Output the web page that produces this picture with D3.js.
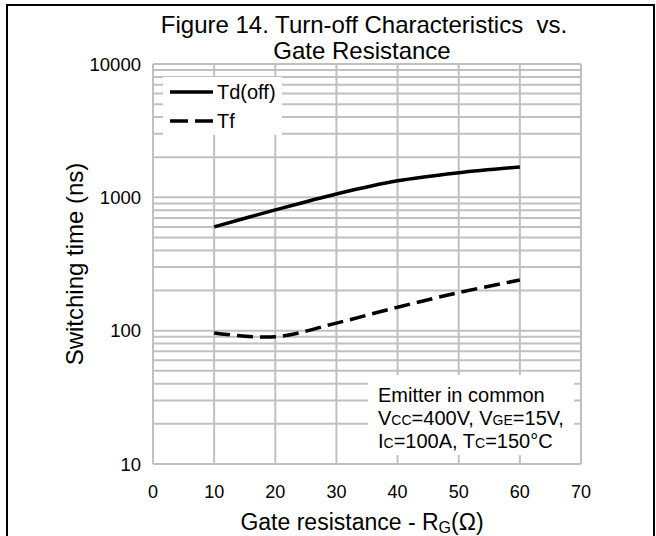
<!DOCTYPE html>
<html><head><meta charset="utf-8">
<script src="https://cdn.jsdelivr.net/npm/d3@7"></script>
<style>body{margin:0;background:#fff;} text{font-family:"Liberation Sans",Arial,sans-serif;fill:#000;}</style>
</head><body>
<svg id="c" width="656" height="536"></svg>
<script>
const xTicks = [0,10,20,30,40,50,60,70];
const yTicks = [10,100,1000,10000];
const rg = [10,20,30,40,50,60];
const tdOff = [600,805,1060,1330,1530,1690];
const tf = [96,90,114,150,193,240];
const seriesNames = ["Td(off)","Tf"];

const svg = d3.select("#c");
const L=153,R=581,T=64,B=464;
const x = d3.scaleLinear().domain([0,70]).range([L,R]);
const y = d3.scaleLog().domain([10,10000]).range([B,T]);

// frame
svg.append("path").attr("d","M7,536V5H654V536").attr("fill","none").attr("stroke","#000").attr("stroke-width",2);

// grid
const minor=[];
for(let d=10; d<10000; d*=10) for(let k=1;k<=9;k++) minor.push(d*k);
minor.push(10000);
const g = svg.append("g");
g.selectAll("line.h").data(minor).join("line").attr("x1",L).attr("x2",R)
 .attr("y1",d=>y(d)).attr("y2",d=>y(d)).attr("stroke","#c0c0c0").attr("stroke-width",2);
g.selectAll("line.v").data(xTicks).join("line").attr("y1",T).attr("y2",B)
 .attr("x1",d=>x(d)).attr("x2",d=>x(d)).attr("stroke","#c0c0c0").attr("stroke-width",2);

// tick labels
svg.selectAll("text.xt").data(xTicks).join("text").attr("x",d=>x(d)).attr("y",498)
 .attr("text-anchor","middle").attr("font-size",18).text(d=>d);
svg.selectAll("text.yt").data(yTicks).join("text").attr("x",141).attr("y",d=>y(d)+6.5)
 .attr("text-anchor","end").attr("font-size",18.5).text(d=>d);

// lines
const line = d3.line().x((d,i)=>x(rg[i])).y(d=>y(d)).curve(d3.curveCatmullRom.alpha(0.5));
svg.append("path").attr("d",line(tdOff)).attr("fill","none").attr("stroke","#000").attr("stroke-width",3.5);
svg.append("path").attr("d",line(tf)).attr("fill","none").attr("stroke","#000").attr("stroke-width",3.5).attr("stroke-dasharray","16,7");

// legend
svg.append("rect").attr("x",163).attr("y",77).attr("width",119).attr("height",58).attr("fill","#fff");
svg.append("line").attr("x1",170).attr("x2",213).attr("y1",92).attr("y2",92).attr("stroke","#000").attr("stroke-width",3.5);
svg.append("line").attr("x1",170).attr("x2",213).attr("y1",121).attr("y2",121).attr("stroke","#000").attr("stroke-width",3.5).attr("stroke-dasharray","18,7");
svg.append("text").attr("x",217).attr("y",99).attr("font-size",20).text(seriesNames[0]);
svg.append("text").attr("x",217).attr("y",128).attr("font-size",20).text(seriesNames[1]);

// annotation
svg.append("rect").attr("x",368).attr("y",375).attr("width",206).attr("height",80).attr("fill","#fff");
const ann = svg.append("g").attr("font-size",20);
ann.append("text").attr("x",378).attr("y",402).text("Emitter in common");
const t2 = ann.append("text").attr("x",378).attr("y",425);
t2.append("tspan").text("V");
t2.append("tspan").attr("font-size",14).text("CC");
t2.append("tspan").text("=400V, V");
t2.append("tspan").attr("font-size",14).text("GE");
t2.append("tspan").text("=15V,");
const t3 = ann.append("text").attr("x",378).attr("y",448);
t3.append("tspan").text("I");
t3.append("tspan").attr("font-size",14).text("C");
t3.append("tspan").text("=100A, T");
t3.append("tspan").attr("font-size",14).text("C");
t3.append("tspan").text("=150°C");

// titles
svg.append("text").attr("x",364).attr("y",33).attr("text-anchor","middle").attr("font-size",24).text("Figure 14. Turn-off Characteristics\u00A0 vs.");
svg.append("text").attr("x",362).attr("y",59).attr("text-anchor","middle").attr("font-size",24).text("Gate Resistance");
const xt = svg.append("text").attr("x",362).attr("y",530).attr("text-anchor","middle").attr("font-size",23);
xt.append("tspan").text("Gate resistance - R");
xt.append("tspan").attr("font-size",16).attr("dy",3).text("G");
xt.append("tspan").attr("dy",-3).text("(Ω)");
svg.append("text").attr("transform","translate(83,264) rotate(-90)").attr("text-anchor","middle").attr("font-size",24).text("Switching time (ns)");
</script>
</body></html>
